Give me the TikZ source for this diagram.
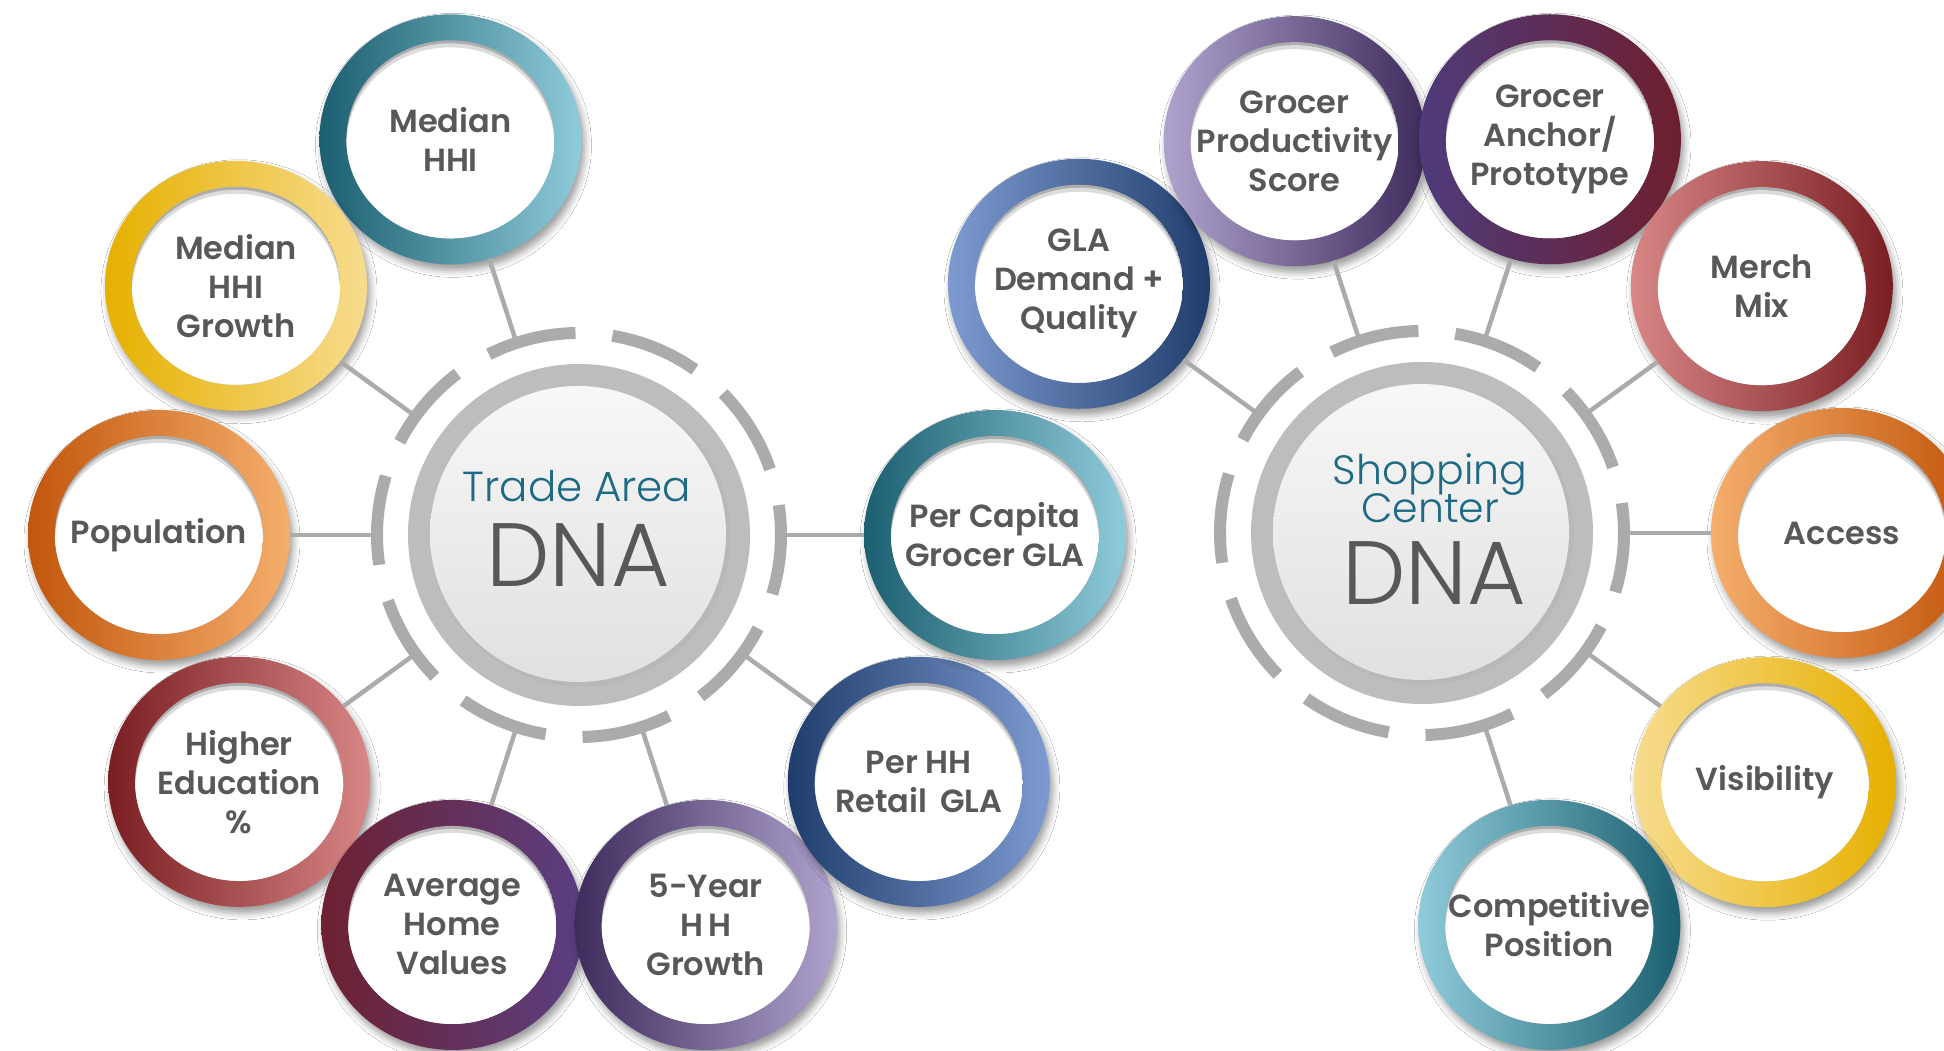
\documentclass[tikz,border=0pt]{standalone}
\usepackage{fontspec}
\setmainfont{Poppins}[BoldFont={Poppins SemiBold}]
\newfontfamily\hublight{Poppins Light}
\usetikzlibrary{calc,shapes.geometric,shadows.blur}
\definecolor{txtgray}{HTML}{58585A}
\definecolor{hubblue}{HTML}{1D6A85}
\definecolor{dashgray}{HTML}{ABABAB}
\definecolor{ringgray}{HTML}{BDBDBD}
\definecolor{tealD}{HTML}{1B5F70}
\definecolor{tealL}{HTML}{8FCBDA}
\definecolor{yelD}{HTML}{E6B000}
\definecolor{yelL}{HTML}{F7DC8E}
\definecolor{orD}{HTML}{C2560C}
\definecolor{orM}{HTML}{EE7A16}
\definecolor{orL}{HTML}{F5AE6C}
\definecolor{redD}{HTML}{7A1E22}
\definecolor{redL}{HTML}{D88686}
\definecolor{marD}{HTML}{6D2131}
\definecolor{purM}{HTML}{5A3F82}
\definecolor{vioD}{HTML}{3E2C5C}
\definecolor{vioL}{HTML}{B0A3CE}
\definecolor{navD}{HTML}{1F3D6C}
\definecolor{navL}{HTML}{7D9BD0}
\definecolor{ancP}{HTML}{4E3B7C}
\definecolor{ancR}{HTML}{6E1F2E}
\tikzset{
  satring/.style={ellipse, minimum width=262pt, minimum height=250pt, inner sep=0pt,
    blur shadow={shadow xshift=3pt, shadow yshift=-6pt, shadow blur radius=7pt, shadow opacity=40}},
  sattext/.style={text=txtgray, font=\fontsize{32}{39}\selectfont\bfseries, align=center, inner sep=0pt},
  conn/.style={draw=dashgray, line width=4.5pt},
  dashseg/.style={draw=dashgray, line width=12pt},
  hubring/.style={circle, minimum size=342pt, inner sep=0pt, fill=ringgray},
  hubsmall/.style={text=hubblue, inner sep=0pt, anchor=base},
  hubbig/.style={text=txtgray, inner sep=0pt, anchor=base, font=\hublight\fontsize{90}{90}\selectfont},
}
\newcommand\satellite[4]{%
  \node[satring,#3] (#1) at (#2) {};
  \begin{scope}
    \clip (#1.center) ellipse [x radius=104pt, y radius=99pt];
    \fill[black!32] (#1.center) ellipse [x radius=104pt, y radius=99pt];
    \fill[black!14] ($(#1.center)+(0,-3)$) ellipse [x radius=104pt, y radius=99pt];
    \fill[white] ($(#1.center)+(0,-7)$) ellipse [x radius=104pt, y radius=99pt];
  \end{scope}
  \node[sattext] (#1-t) at (#1.center) {#4};
}
\newcommand\hubdisc[1]{%
  \fill[black!28] ($(#1)+(1.5,-1.5)$) circle (150pt);
  \shade[top color=white!97!black, bottom color=white!88!black] ($(#1)+(-1,1)$) circle (148pt);
  \foreach \k in {0,...,9} {
    \draw[dashseg] ($(#1)+({91-36*\k}:202pt)$) arc[start angle={91-36*\k}, delta angle=25.5, radius=202pt];
  }
}
\begin{document}
\begin{tikzpicture}[x=1pt,y=1pt]
\useasboundingbox (0,0) rectangle (1944,1051);
\fill[white] (0,0) rectangle (1944,1051);

% ---------- left hub ----------
\node[hubring] (hubL) at (579,516) {};
\hubdisc{hubL}
\node[hubsmall, font=\hublight\fontsize{42}{42}\selectfont] (hubL-a) at (577,549) {Trade Area};
\node[hubbig] (hubL-b) at (578,464) {DNA};

\satellite{mhhi}{$(hubL)+(108:416pt)$}{left color=tealD, right color=tealL}{Median\\HHI}
\satellite{mgrow}{$(hubL)+(144:424pt)$}{left color=yelD, right color=yelL}{Median\\HHI\\Growth}
\satellite{pop}{$(hubL)+(180:420pt)$}{left color=orD, middle color=orM, right color=orL}{Population}
\satellite{hedu}{$(hubL)+(216:420pt)$}{left color=redD, right color=redL}{Higher\\Education\\\%}
\satellite{ahv}{$(hubL)+(252:410pt)$}{left color=marD, right color=purM}{Average\\Home\\Values}
\satellite{fyr}{$(hubL)+(288:410pt)$}{left color=vioD, right color=vioL}{5-Year\\H\,H\\Growth}
\satellite{phh}{$(hubL)+(324:420pt)$}{left color=navD, right color=navL}{Per HH\\Retail\hspace{0.4em}GLA}
\satellite{pcap}{$(hubL)+(0:416pt)$}{left color=tealD, right color=tealL}{Per Capita\\Grocer GLA}

\draw[conn] ($(hubL)+(108:206pt)$) -- (mhhi);
\draw[conn] ($(hubL)+(144:206pt)$) -- (mgrow);
\draw[conn] ($(hubL)+(180:206pt)$) -- (pop);
\draw[conn] ($(hubL)+(216:206pt)$) -- (hedu);
\draw[conn] ($(hubL)+(252:206pt)$) -- (ahv);
\draw[conn] ($(hubL)+(288:206pt)$) -- (fyr);
\draw[conn] ($(hubL)+(324:206pt)$) -- (phh);
\draw[conn] ($(hubL)+(0:206pt)$) -- (pcap);

% ---------- right hub ----------
\node[hubring] (hubR) at (1422,518) {};
\hubdisc{hubR}
\node[hubsmall, font=\hublight\fontsize{41}{41}\selectfont] (hubR-a) at (1430,566) {Shopping};
\node[hubsmall, font=\hublight\fontsize{41}{41}\selectfont] (hubR-b) at (1430,528) {Center};
\node[hubbig] (hubR-c) at (1434,446) {DNA};

\satellite{gla}{$(hubR)+(144:424pt)$}{left color=navL, right color=navD}{GLA\\Demand +\\Quality}
\satellite{gps}{$(hubR)+(108:412pt)$}{left color=vioL, right color=vioD}{Grocer\\Productivity\\Score}
\satellite{gap}{$(hubR)+(72:414pt)$}{left color=ancP, right color=ancR}{Grocer\\Anchor/\\Prototype}
\satellite{mm}{$(hubR)+(36:420pt)$}{left color=redL, right color=redD}{Merch\\Mix}
\satellite{acc}{$(hubR)+(0:420pt)$}{left color=orL, middle color=orM, right color=orD}{Access}
\satellite{vis}{$(hubR)+(-36:424pt)$}{left color=yelL, right color=yelD}{Visibility}
\satellite{cpos}{$(hubR)+(-72:412pt)$}{left color=tealL, right color=tealD}{Competitive\\Position}

\draw[conn] ($(hubR)+(144:206pt)$) -- (gla);
\draw[conn] ($(hubR)+(108:206pt)$) -- (gps);
\draw[conn] ($(hubR)+(72:206pt)$) -- (gap);
\draw[conn] ($(hubR)+(36:206pt)$) -- (mm);
\draw[conn] ($(hubR)+(0:206pt)$) -- (acc);
\draw[conn] ($(hubR)+(-36:206pt)$) -- (vis);
\draw[conn] ($(hubR)+(-72:206pt)$) -- (cpos);
\end{tikzpicture}
\end{document}
